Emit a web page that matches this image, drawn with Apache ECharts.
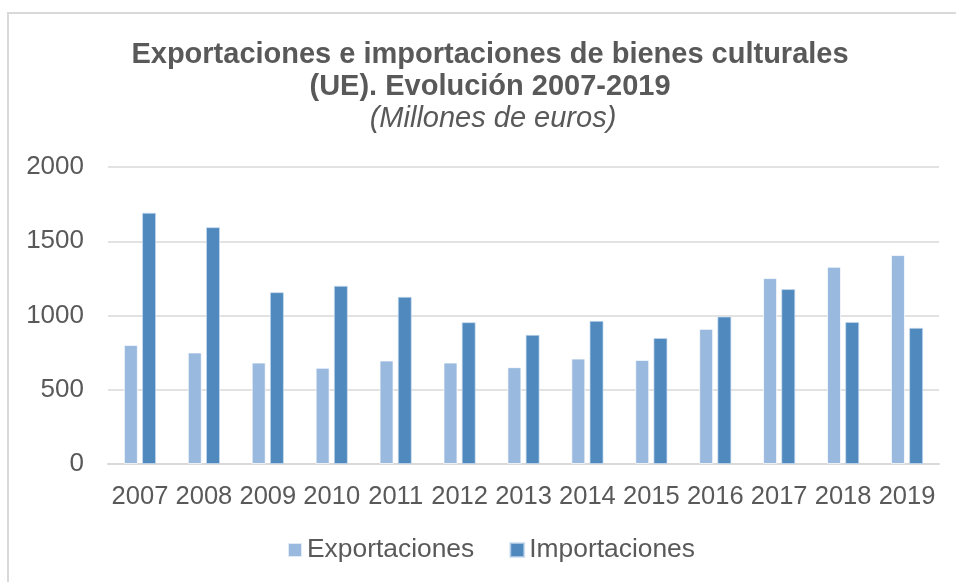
<!DOCTYPE html>
<html>
<head>
<meta charset="utf-8">
<title>Bienes culturales UE</title>
<script src="https://cdn.jsdelivr.net/npm/echarts@6/dist/echarts.min.js"></script>
<style>
  html, body { margin: 0; padding: 0; background: #fff; }
  #main { width: 956px; height: 582px; }
</style>
</head>
<body>
<div id="main"></div>
<script>
// datos (millones de euros)
var years = ['2007','2008','2009','2010','2011','2012','2013','2014','2015','2016','2017','2018','2019'];
var exportaciones = [802, 751, 683, 648, 697, 683, 652, 710, 701, 910, 1252, 1328, 1407];
var importaciones = [1692, 1595, 1157, 1200, 1126, 955, 870, 964, 849, 993, 1178, 957, 917];
var yTicks = [0, 500, 1000, 1500, 2000];

var txt = '#595959';
var font = 'Liberation Sans, Arial, sans-serif';

var myChart = echarts.init(document.getElementById('main'));
var option = {
    animation: false,
    backgroundColor: '#fff',
    textStyle: { fontFamily: font },
    title: [{
        text: 'Exportaciones e importaciones de bienes culturales\n(UE). Evolución 2007-2019',
        left: 485,
        textAlign: 'center',
        top: 34,
        textStyle: { color: txt, fontSize: 29, fontWeight: 'bold', lineHeight: 32, fontFamily: font }
    }, {
        text: '(Millones de euros)',
        left: 488,
        textAlign: 'center',
        top: 99,
        textStyle: { color: txt, fontSize: 29, fontWeight: 'normal', fontStyle: 'italic', lineHeight: 29, fontFamily: font }
    }],
    legend: {
        bottom: 14,
        left: 282,
        itemWidth: 14,
        itemHeight: 14,
        itemGap: 35,
        icon: 'rect',
        textStyle: { color: txt, fontSize: 26.4, fontFamily: font },
        data: ['Exportaciones', 'Importaciones']
    },
    grid: { left: 108, right: 17, top: 167, bottom: 118 },
    xAxis: {
        type: 'category',
        data: years,
        axisLine: { lineStyle: { color: '#d9d9d9', width: 2 } },
        axisTick: { show: false },
        axisLabel: { color: txt, fontSize: 25.5, margin: 20, interval: 0 }
    },
    yAxis: {
        type: 'value',
        min: yTicks[0],
        max: yTicks[yTicks.length - 1],
        interval: 500,
        axisLine: { show: false },
        axisTick: { show: false },
        axisLabel: {
            color: txt, fontSize: 26, margin: 24,
            formatter: function (v) { return String(v); }
        },
        splitLine: { lineStyle: { color: '#d9d9d9', width: 1.5 } }
    },
    graphic: [{
        type: 'polyline',
        shape: { points: [[8, 582], [8, 13], [956, 13]] },
        style: { stroke: '#d9d9d9', lineWidth: 2, fill: null }
    }],
    series: [{
        name: 'Exportaciones',
        type: 'bar',
        data: exportaciones,
        barWidth: 14,
        barGap: '30%',
        itemStyle: { color: '#99b9df', borderColor: 'rgba(255,255,255,0.7)', borderWidth: 1 }
    }, {
        name: 'Importaciones',
        type: 'bar',
        data: importaciones,
        barWidth: 14,
        itemStyle: { color: '#4f89bd', borderColor: 'rgba(200,220,240,0.7)', borderWidth: 1 }
    }]
};
myChart.setOption(option);
</script>
</body>
</html>
